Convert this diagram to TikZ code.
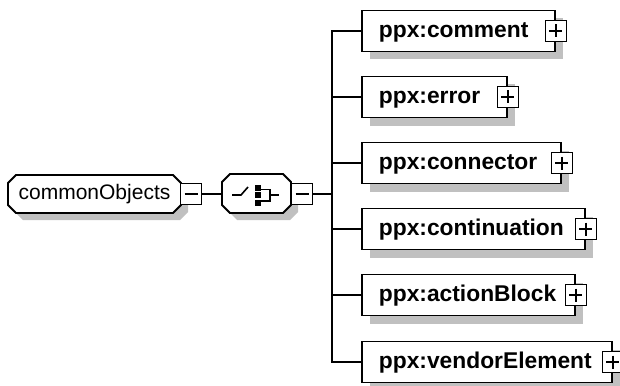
\documentclass[tikz,border=0pt]{standalone}
\usepackage{fontspec}
\setmainfont{Liberation Sans}
\usetikzlibrary{shadows}
\pgfdeclarelayer{background}
\pgfsetlayers{background,main}
\definecolor{shd}{RGB}{192,192,192}
\tikzset{
  ln/.style={draw=black, line width=1.8pt},
  elem/.style={draw=black, fill=white, line width=1.8pt, anchor=west,
    minimum height=41pt, inner xsep=17pt, inner ysep=0pt, align=left,
    text height=16pt, text depth=3pt,
    font=\fontsize{22.8}{26}\selectfont\bfseries,
    drop shadow={shadow xshift=8pt, shadow yshift=-8pt, fill=shd, opacity=1}},
  pm/.style={draw=black, fill=white, line width=1.6pt, minimum width=21pt,
    minimum height=21pt, inner sep=0pt},
  plusbox/.style={pm, path picture={
    \draw[line width=1.5pt] ([xshift=4pt]path picture bounding box.west) -- ([xshift=-4pt]path picture bounding box.east);
    \draw[line width=1.5pt] ([yshift=-4pt]path picture bounding box.north) -- ([yshift=4pt]path picture bounding box.south);}},
  minusbox/.style={pm, path picture={
    \draw[line width=1.5pt] ([xshift=4pt]path picture bounding box.west) -- ([xshift=-4pt]path picture bounding box.east);}},
  octo/.style={draw=black, fill=white, line width=1.8pt},
  octshadow/.style={fill=shd, draw=none},
}
\begin{document}
\begin{tikzpicture}[x=1pt, y=-1pt]
\useasboundingbox (0,0) rectangle (620,385);

% main nodes
\node[minimum width=173pt, minimum height=38pt, inner sep=0pt,
  font=\fontsize{21}{24}\selectfont] (co) at (94.5,194) {commonObjects};
\node[minimum width=69pt, minimum height=39pt, inner sep=0pt] (sq) at (256.5,194) {};

\begin{pgfonlayer}{background}
  % shadows
  \fill[octshadow] (23,182) -- (180,182) -- (188,190) -- (188,212) -- (180,220) -- (23,220) -- (15,212) -- (15,190) -- cycle;
  \fill[octshadow] (237,181) -- (290,181) -- (298,189) -- (298,212) -- (290,220) -- (237,220) -- (229,212) -- (229,189) -- cycle;
  % octagons
  \filldraw[octo] (16,175) -- (173,175) -- (181,183) -- (181,205) -- (173,213) -- (16,213) -- (8,205) -- (8,183) -- cycle;
  \filldraw[octo] (230,174) -- (283,174) -- (291,182) -- (291,205) -- (283,213) -- (230,213) -- (222,205) -- (222,182) -- cycle;
\end{pgfonlayer}

% sequence symbol
\draw[line width=1.6pt] (232,195) -- (241,195) -- (248,187);
\fill (254.5,184.5) rectangle (260.5,190.5);
\fill (254.5,191.5) rectangle (260.5,197.5);
\fill (254.5,199.5) rectangle (260.5,205.5);
\draw[line width=1.6pt] (260,189.5) -- (270,189.5) -- (270,201) -- (260,201);
\draw[line width=1.6pt] (270,195) -- (279,195);

% minus boxes
\node[minusbox] (cm) at (191,194) {};
\node[minusbox] (sm) at (302,194) {};

% child elements
\node[elem, text width=159pt] (c1) at (361,31)  {ppx:comment};
\node[elem, text width=111pt] (c2) at (361,97)  {ppx:error};
\node[elem, text width=165pt] (c3) at (361,163) {ppx:connector};
\node[elem, text width=189pt] (c4) at (361,229) {ppx:continuation};
\node[elem, text width=179pt] (c5) at (361,295) {ppx:actionBlock};
\node[elem, text width=216pt] (c6) at (361,362) {ppx:vendorElement};

\foreach \n in {c1,c2,c3,c4,c5,c6} {
  \node[plusbox] (\n p) at (\n.east) {};
}

% connectors
\coordinate (bus) at (332,194);
\draw[ln] (cm.east) -- (sq.west);
\draw[ln] (sm.east) -- (bus);
\foreach \n in {c1,c2,c3,c4,c5,c6} {
  \draw[ln] (bus) |- (\n.west);
}
\end{tikzpicture}
\end{document}
